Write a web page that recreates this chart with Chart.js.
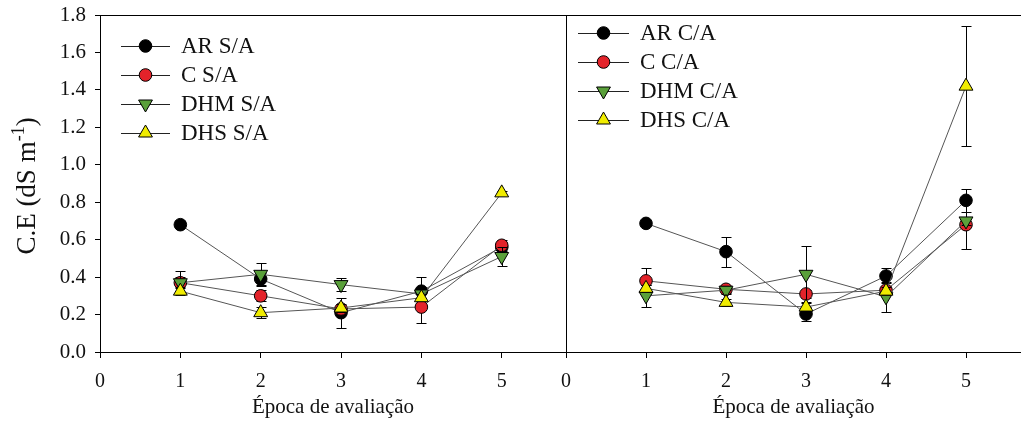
<!DOCTYPE html>
<html>
<head>
<meta charset="utf-8">
<script src="https://cdn.jsdelivr.net/npm/chart.js@4.4.1/dist/chart.umd.min.js"></script>
<style>
  html, body { margin: 0; padding: 0; background: #fff; }
  body { width: 1021px; height: 423px; position: relative; overflow: hidden; }
  .panel { position: absolute; top: 0; height: 423px; }
  #left { left: 0; width: 566px; }
  #right { left: 556px; width: 465px; }
</style>
</head>
<body>
<div class="panel" id="left"><canvas id="chartLeft"></canvas></div>
<div class="panel" id="right"><canvas id="chartRight"></canvas></div>
<script>
// --- data ---
const epochs = [1, 2, 3, 4, 5];
const xTicks = [0, 1, 2, 3, 4, 5];
const yTicks = [0, 0.2, 0.4, 0.6, 0.8, 1.0, 1.2, 1.4, 1.6, 1.8];

// sem adubação (S/A)
const arSA = [0.68, 0.39, 0.21, 0.325, 0.56];
const arSAErr = [0.02, 0.03, 0.08, 0.075, 0.03];
const cSA = [0.37, 0.30, 0.23, 0.24, 0.57];
const cSAErr = [0.03, 0.03, 0.02, 0.085, 0.03];
const dhmSA = [0.37, 0.415, 0.36, 0.31, 0.51];
const dhmSAErr = [0.06, 0.06, 0.035, 0.02, 0.05];
const dhsSA = [0.325, 0.21, 0.235, 0.29, 0.85];
const dhsSAErr = [0.02, 0.03, 0.02, 0.02, 0.01];

// com adubação (C/A)
const arCA = [0.687, 0.536, 0.203, 0.406, 0.81];
const arCAErr = [0.01, 0.08, 0.04, 0.04, 0.06];
const cCA = [0.38, 0.335, 0.31, 0.33, 0.68];
const cCAErr = [0.07, 0.02, 0.02, 0.02, 0.13];
const dhmCA = [0.30, 0.33, 0.415, 0.295, 0.70];
const dhmCAErr = [0.06, 0.02, 0.15, 0.08, 0.02];
const dhsCA = [0.34, 0.265, 0.24, 0.325, 1.42];
const dhsCAErr = [0.02, 0.02, 0.02, 0.02, 0.32];

const serif = "'Liberation Serif', 'Times New Roman', serif";

const styles = {
  ar: { bg: "#000000", style: "circle", radius: 6.3, rotation: 0, order: 4 },
  c: { bg: "#e3232a", style: "circle", radius: 6.3, rotation: 0, order: 3 },
  dhm: { bg: "#5aa03a", style: "triangle", radius: 8, rotation: 180, order: 2 },
  dhs: { bg: "#f0ec00", style: "triangle", radius: 8, rotation: 0, order: 1 },
};

const makeSet = (label, values, errors, st) => ({
  label,
  data: epochs.map((x, i) => ({ x, y: values[i] })),
  errors,
  borderColor: "#555",
  borderWidth: 1,
  pointStyle: st.style,
  pointRadius: st.radius,
  pointRotation: st.rotation,
  pointBackgroundColor: st.bg,
  pointBorderColor: "#000",
  pointBorderWidth: 1,
  order: st.order,
  tension: 0,
});

const drawMarker = (ctx, ds, x, y) => {
  const r = ds.pointRadius;
  ctx.save();
  ctx.fillStyle = ds.pointBackgroundColor;
  ctx.strokeStyle = "#000";
  ctx.lineWidth = 1;
  ctx.beginPath();
  if (ds.pointStyle === "circle") {
    ctx.arc(x, y, r, 0, Math.PI * 2);
  } else {
    let rad = (ds.pointRotation || 0) * Math.PI / 180;
    for (let k = 0; k < 3; k++) {
      const px = x + Math.sin(rad) * r;
      const py = y - Math.cos(rad) * r;
      k === 0 ? ctx.moveTo(px, py) : ctx.lineTo(px, py);
      rad += (2 * Math.PI) / 3;
    }
    ctx.closePath();
  }
  ctx.fill();
  ctx.stroke();
  ctx.restore();
};

// error bars go under each series' own line/markers
const errorBars = {
  id: "errorBars",
  beforeDatasetDraw(chart, args) {
    const ds = chart.data.datasets[args.index];
    if (!ds.errors) return;
    const xs = chart.scales.x;
    const ys = chart.scales.y;
    const ctx = chart.ctx;
    ctx.save();
    ctx.strokeStyle = "#000";
    ctx.lineWidth = 1;
    ds.data.forEach((p, i) => {
      const e = ds.errors[i];
      const px = Math.round(xs.getPixelForValue(p.x)) + 0.5;
      const top = Math.round(ys.getPixelForValue(p.y + e)) + 0.5;
      const bot = Math.round(ys.getPixelForValue(p.y - e)) + 0.5;
      ctx.beginPath();
      ctx.moveTo(px, top);
      ctx.lineTo(px, bot);
      ctx.moveTo(px - 5, top);
      ctx.lineTo(px + 5, top);
      ctx.moveTo(px - 5, bot);
      ctx.lineTo(px + 5, bot);
      ctx.stroke();
    });
    ctx.restore();
  },
};

// frame line on top, legend box, and y title
const panelDecor = {
  id: "panelDecor",
  afterDraw(chart, args, opts) {
    const ctx = chart.ctx;
    const a = chart.chartArea;
    ctx.save();
    ctx.strokeStyle = "#000";
    ctx.lineWidth = 1;
    ctx.beginPath();
    ctx.moveTo(a.left, a.top + 0.5);
    ctx.lineTo(a.right, a.top + 0.5);
    ctx.stroke();

    chart.data.datasets.forEach((ds, i) => {
      const cy = a.top + opts.rowTop + i * opts.rowGap;
      const x0 = a.left + opts.lineStart;
      const x1 = x0 + opts.lineLength;
      ctx.strokeStyle = "#222";
      ctx.beginPath();
      ctx.moveTo(x0, cy + 0.5);
      ctx.lineTo(x1, cy + 0.5);
      ctx.stroke();
      drawMarker(ctx, ds, (x0 + x1) / 2, cy);
      ctx.fillStyle = "#111";
      ctx.font = "23px " + serif;
      ctx.textBaseline = "middle";
      ctx.textAlign = "left";
      ctx.fillText(ds.label, x1 + opts.textGap, cy + 1);
    });

    if (opts.yTitle) {
      ctx.translate(opts.yTitleX, opts.yTitleY);
      ctx.rotate(-Math.PI / 2);
      ctx.fillStyle = "#111";
      ctx.textBaseline = "middle";
      ctx.textAlign = "left";
      const big = "27px " + serif;
      const small = "18px " + serif;
      ctx.font = big;
      const w1 = ctx.measureText("C.E (dS m").width;
      const w3 = ctx.measureText(")").width;
      ctx.font = small;
      const w2 = ctx.measureText("-1").width;
      let x = -(w1 + w2 + w3) / 2;
      ctx.font = big;
      ctx.fillText("C.E (dS m", x, 0);
      x += w1;
      ctx.font = small;
      ctx.fillText("-1", x, -9);
      x += w2;
      ctx.font = big;
      ctx.fillText(")", x, 0);
    }
    ctx.restore();
  },
};

const xScale = (max) => ({
  type: "linear",
  min: 0,
  max,
  afterBuildTicks: (s) => { s.ticks = xTicks.map((v) => ({ value: v })); },
  afterFit: (s) => {
    s.height = 71;
    s.paddingLeft = 0;
    s.paddingRight = 0;
  },
  grid: { display: true, drawOnChartArea: false, drawTicks: true, tickLength: 6, color: "#000" },
  border: { display: true, color: "#000", width: 1 },
  ticks: { font: { family: serif, size: 20 }, color: "#111", padding: 12, maxRotation: 0, autoSkip: false },
  title: { display: true, text: "Época de avaliação", font: { family: serif, size: 21 }, color: "#111", padding: { top: 0, bottom: 3 } },
});

const makeChart = (id, sets, xMax, yShown, padLeft, decor) =>
  new Chart(document.getElementById(id), {
    type: "line",
    data: { datasets: sets },
    options: {
      responsive: true,
      maintainAspectRatio: false,
      animation: false,
      events: [],
      layout: { autoPadding: false, padding: { top: 15, left: padLeft, right: 0, bottom: 0 } },
      scales: {
        x: xScale(xMax),
        y: {
          min: 0,
          max: 1.8,
          afterBuildTicks: (s) => { s.ticks = yTicks.map((v) => ({ value: v })); },
          afterFit: (s) => {
            s.width = yShown ? 100 : 0;
            s.paddingTop = 0;
            s.paddingBottom = 0;
          },
          grid: { display: yShown, drawOnChartArea: false, drawTicks: true, tickLength: 5, color: "#000" },
          border: { display: true, color: "#000", width: 1 },
          ticks: {
            display: yShown,
            font: { family: serif, size: 21 },
            color: "#111",
            padding: 9,
            callback: (v) => Number(v).toFixed(1),
          },
        },
      },
      plugins: {
        legend: { display: false },
        tooltip: { enabled: false },
        panelDecor: decor,
      },
    },
    plugins: [errorBars, panelDecor],
  });

makeChart(
  "chartLeft",
  [
    makeSet("AR S/A", arSA, arSAErr, styles.ar),
    makeSet("C S/A", cSA, cSAErr, styles.c),
    makeSet("DHM S/A", dhmSA, dhmSAErr, styles.dhm),
    makeSet("DHS S/A", dhsSA, dhsSAErr, styles.dhs),
  ],
  5.8,
  true,
  0,
  { rowTop: 31, rowGap: 29, lineStart: 21, lineLength: 49, textGap: 11, yTitle: true, yTitleX: 28, yTitleY: 186 }
);

makeChart(
  "chartRight",
  [
    makeSet("AR C/A", arCA, arCAErr, styles.ar),
    makeSet("C C/A", cCA, cCAErr, styles.c),
    makeSet("DHM C/A", dhmCA, dhmCAErr, styles.dhm),
    makeSet("DHS C/A", dhsCA, dhsCAErr, styles.dhs),
  ],
  5.6875,
  false,
  10,
  { rowTop: 18, rowGap: 29, lineStart: 12, lineLength: 51, textGap: 11, yTitle: false }
);
</script>
</body>
</html>
